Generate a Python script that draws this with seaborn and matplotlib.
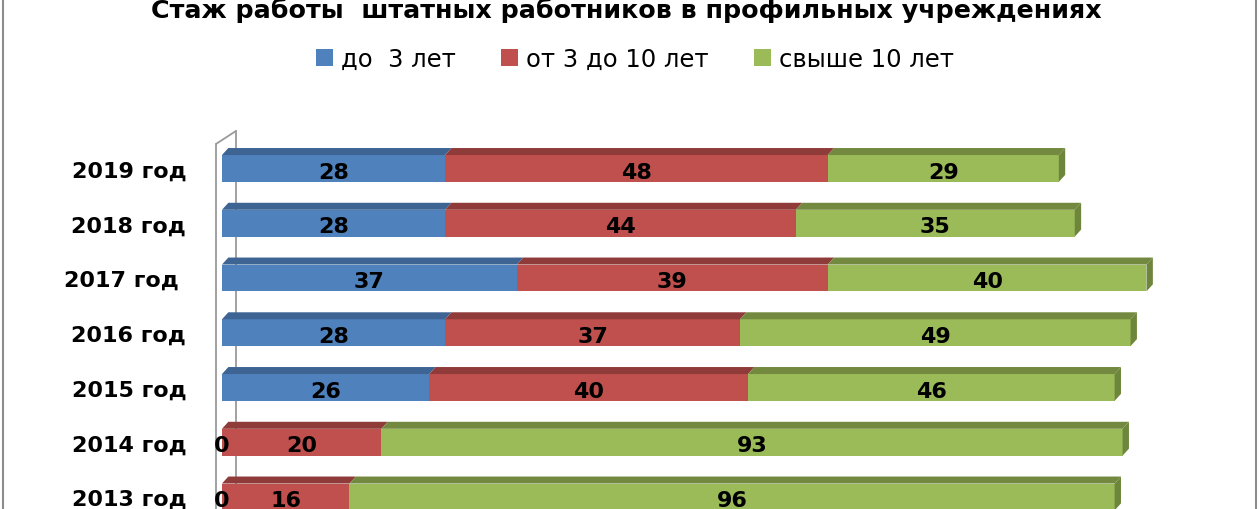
import numpy as np
import pandas as pd
import matplotlib
matplotlib.use("Agg")
import matplotlib.pyplot as plt
import seaborn as sns
from matplotlib.patches import Polygon, Rectangle
from matplotlib.lines import Line2D


years = ['2019 год', '2018 год', '2017 год ', '2016 год', '2015 год', '2014 год', '2013 год']
under3 = [28, 28, 37, 28, 26, 0, 0]
from3to10 = [48, 44, 39, 37, 40, 20, 16]
over10 = [29, 35, 40, 49, 46, 93, 96]
series_names = ['до  3 лет', 'от 3 до 10 лет', 'свыше 10 лет']

front_colors = ['#4F81BD', '#C0504D', '#9BBB59']
top_colors = ['#3E6494', '#8F3B39', '#72893F']
side_color = '#6E863B'

df = pd.DataFrame({'year': years, 'a': under3, 'b': from3to10, 'c': over10})
df['ab'] = df['a'] + df['b']
df['abc'] = df['ab'] + df['c']

sns.set_style('white')
plt.rcParams['font.family'] = ['DejaVu Sans']
plt.rcParams['text.color'] = 'black'
plt.rcParams['ytick.color'] = 'black'

fig = plt.figure(figsize=(12.6, 5.1), dpi=100)
ax = fig.add_axes([214.0 / 1260, 0.0, 996.25 / 1260, 373.4 / 510])

# stacked bars: draw the cumulative totals, longest first
bar_w = 0.49
for col, c in zip(['abc', 'ab', 'a'], front_colors[::-1]):
    sns.barplot(data=df, x=col, y='year', color=c, saturation=1, width=bar_w,
                orient='h', edgecolor='none', ax=ax, zorder=3)

ax.set_xlim(-1, 124)
ax.set_ylim(6.22, -0.6)

# group patches per layer (blue, red, green)
n = len(years)
patches = list(ax.patches)
layers = [patches[2 * n:3 * n], patches[n:2 * n], patches[0:n]]

# 3D look: top faces and right end faces
dx, dy = 0.8, 0.128
for i, layer in enumerate(layers):
    for j, p in enumerate(layer):
        x1 = p.get_width()
        x0 = layers[i - 1][j].get_width() if i > 0 else 0
        yt = p.get_y()
        yb = yt + p.get_height()
        if x1 - x0 > 0:
            top = Polygon([(x0, yt), (x1, yt), (x1 + dx, yt - dy), (x0 + dx, yt - dy)],
                          closed=True, facecolor=top_colors[i], edgecolor='none', zorder=3)
            ax.add_patch(top)
        if i == 2:
            side = Polygon([(x1, yt), (x1, yb), (x1 + dx, yb - dy), (x1 + dx, yt - dy)],
                           closed=True, facecolor=side_color, edgecolor='none', zorder=3)
            ax.add_patch(side)

# value labels
vals = [under3, from3to10, over10]
for i, layer in enumerate(layers):
    for j, p in enumerate(layer):
        x1 = p.get_width()
        x0 = layers[i - 1][j].get_width() if i > 0 else 0
        ax.text((x0 + x1) / 2, p.get_y() + p.get_height() / 2 + 0.02, str(vals[i][j]),
                ha='center', va='center_baseline', fontsize=16, fontweight='bold',
                color='black', zorder=5)

# the wall of the 3D chart
wall_kw = dict(color='#9A9A9A', lw=1.3, clip_on=False, zorder=2)
ax.add_line(Line2D([-0.75, -0.75], [-0.447, 7], **wall_kw))
ax.add_line(Line2D([-0.75, 1.76], [-0.447, -0.685], **wall_kw))
ax.add_line(Line2D([1.76, 1.76], [-0.685, 7], **wall_kw))

ax.set_xlabel('')
ax.set_ylabel('')
ax.set_xticks([])
ax.tick_params(axis='y', length=0, pad=20, labelsize=16, labelcolor='black')
for lab in ax.get_yticklabels():
    lab.set_fontweight('bold')
for s in ax.spines.values():
    s.set_visible(False)

# legend
handles = [Rectangle((0, 0), 1, 1, facecolor=c, edgecolor='none') for c in front_colors]
fig.legend(handles, series_names, loc='center', bbox_to_anchor=(635 / 1260, 1 - 60 / 510),
           ncol=3, frameon=False, fontsize=17.5, handlelength=0.7, handleheight=0.7,
           handletextpad=0.33, columnspacing=1.85, labelcolor='black')

fig.text(626 / 1260, 1 - 18 / 510, 'Стаж работы  штатных работников в профильных учреждениях',
         ha='center', va='baseline', fontsize=18.3, fontweight='bold', color='black')

# chart frame
fig.add_artist(Rectangle((3 / 1260, -0.1), 1253 / 1260, 1.2, transform=fig.transFigure,
                         fill=False, edgecolor='#8C8C8C', lw=1.5))

fig.savefig('out.png', dpi=100)
